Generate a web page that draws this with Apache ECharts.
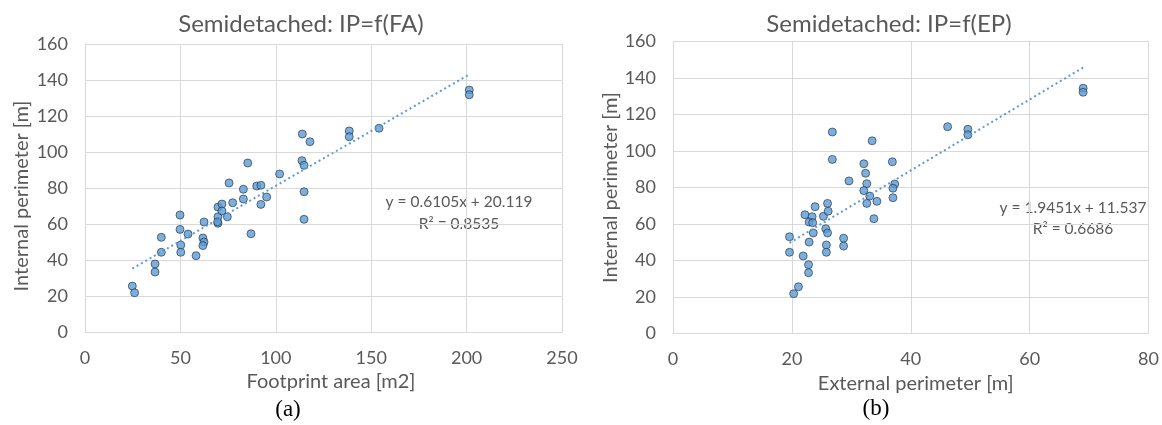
<!DOCTYPE html>
<html>
<head>
<meta charset="utf-8">
<script src="https://cdn.jsdelivr.net/npm/echarts@6/dist/echarts.min.js"></script>
<style>
  html, body { margin: 0; padding: 0; background: #fff; }
  #chart { width: 1162px; height: 425px; }
</style>
</head>
<body>
<div id="chart"></div>
<script>
// Semidetached houses: internal perimeter vs footprint area (a) and vs external perimeter (b)
const footprintArea = [24.8, 26.0, 36.7, 36.7, 40.0, 40.0, 49.8, 49.8, 50.2, 50.2, 54.0, 58.2, 62.4, 61.8, 62.4, 61.8,
  69.7, 69.7, 69.7, 69.5, 71.8, 71.8, 74.6, 77.4, 75.5, 83.0, 83.0, 85.3, 87.0, 90.0, 92.2, 92.2, 95.2, 102.0,
  113.9, 113.7, 114.8, 114.8, 114.8, 117.9, 138.5, 138.5, 154.1, 201.4, 201.4];
const internalPerimA = [25.5, 21.8, 37.8, 33.3, 52.6, 44.3, 65.0, 57.0, 48.3, 44.3, 54.4, 42.4, 61.1, 52.2, 50.0, 48.0,
  69.4, 64.0, 60.4, 61.2, 71.1, 67.2, 64.0, 71.8, 82.8, 79.3, 73.9, 93.9, 54.6, 81.1, 81.5, 70.9, 75.0, 87.8,
  110.0, 95.2, 92.6, 77.9, 62.6, 105.7, 111.7, 108.5, 113.2, 134.4, 131.8];

const externalPerim = [19.6, 19.6, 20.3, 21.1, 21.9, 22.8, 22.8, 22.9, 22.2, 23.4, 22.9, 23.5, 23.6, 23.9, 25.3, 26.0,
  26.1, 25.7, 26.0, 25.8, 25.8, 28.7, 28.7, 26.8, 26.8, 29.6, 32.1, 32.4, 32.6, 32.1, 33.1, 32.6, 34.3, 33.8,
  33.5, 36.9, 37.3, 37.0, 37.0, 46.2, 49.6, 49.6, 69.0, 69.0];
const internalPerimB = [53.0, 44.5, 21.8, 25.6, 42.5, 37.7, 33.3, 50.1, 65.1, 64.0, 61.1, 60.7, 55.1, 69.5, 64.2, 71.3,
  67.0, 57.4, 55.1, 48.5, 44.5, 52.2, 47.9, 110.4, 95.4, 83.6, 93.0, 87.8, 82.1, 78.3, 75.3, 71.3, 72.4, 62.9,
  105.6, 94.1, 81.9, 79.6, 74.4, 113.3, 111.9, 108.9, 134.4, 132.2];

// Linear trend coefficients [slope, intercept] and R²
const fitA = [0.6105, 20.119];
const fitB = [1.9451, 11.537];
const r2A = '0.8535';
const r2B = '0.6686';

const titles = ['Semidetached: IP=f(FA)', 'Semidetached: IP=f(EP)'];
const xNames = ['Footprint area [m2]', 'External perimeter [m]'];
const yName = 'Internal perimeter [m]';
const panelLabels = ['(a)', '(b)'];

const FONT = 'Lato, "Noto Sans", sans-serif';
const GREY = '#595959';
const GRID = '#d9d9d9';
const BLUE = '#5B9BD5';

function pairs(xs, ys) { return xs.map((x, i) => [x, ys[i]]); }
function trend(xs, fit) {
  const lo = Math.min(...xs), hi = Math.max(...xs);
  return [[lo, fit[0] * lo + fit[1]], [hi, fit[0] * hi + fit[1]]];
}
function eqText(fit) { return 'y = ' + fit[0].toFixed(4) + 'x + ' + fit[1].toFixed(3); }

function xAxis(gridIndex, max, interval, name, shift) {
  return {
    type: 'value', gridIndex, min: 0, max, interval,
    name, nameLocation: 'middle', nameGap: 38,
    nameTextStyle: { fontFamily: FONT, fontSize: 20, color: GREY, padding: [0, 0, 0, shift] },
    axisLine: { show: true, lineStyle: { color: GRID, width: 1 } },
    axisTick: { show: false },
    axisLabel: { margin: 17, fontFamily: FONT, fontSize: 18, color: GREY },
    splitLine: { show: true, lineStyle: { color: GRID, width: 1 } }
  };
}
function yAxis(gridIndex, gap, shift) {
  return {
    type: 'value', gridIndex, min: 0, max: 160, interval: 20,
    name: yName, nameLocation: 'middle', nameGap: gap, nameRotate: 90,
    nameTextStyle: { fontFamily: FONT, fontSize: 20, color: GREY, padding: [0, shift, 0, 0] },
    axisLine: { show: true, lineStyle: { color: GRID, width: 1 } },
    axisTick: { show: false },
    axisLabel: { margin: 17, fontFamily: FONT, fontSize: 18, color: GREY },
    splitLine: { show: true, lineStyle: { color: GRID, width: 1 } }
  };
}
function pointSeries(i, data) {
  return {
    type: 'scatter', xAxisIndex: i, yAxisIndex: i, data,
    symbol: 'circle', symbolSize: 8, z: 2,
    itemStyle: { color: BLUE, borderColor: '#1f2d3d', borderWidth: 0.8 },
    emphasis: { disabled: true }
  };
}
function trendSeries(i, data) {
  return {
    type: 'line', xAxisIndex: i, yAxisIndex: i, data,
    symbol: 'none', z: 3, silent: true,
    lineStyle: { color: BLUE, width: 2, type: [2, 3] }
  };
}

const chart = echarts.init(document.getElementById('chart'), null, { renderer: 'canvas' });
const textStyle = { fontFamily: FONT, fontSize: 15.5, fill: GREY, textAlign: 'center' };

chart.setOption({
  animation: false,
  backgroundColor: '#fff',
  title: [
    { text: titles[0], left: 296, top: 7, textAlign: 'center',
      textStyle: { fontFamily: FONT, fontSize: 24, fontWeight: 'normal', color: GREY } },
    { text: titles[1], left: 884, top: 7, textAlign: 'center',
      textStyle: { fontFamily: FONT, fontSize: 24, fontWeight: 'normal', color: GREY } }
  ],
  grid: [
    { left: 85, top: 44, width: 477, height: 288 },
    { left: 673, top: 41.5, width: 476, height: 292 }
  ],
  xAxis: [xAxis(0, 250, 50, xNames[0], 15), xAxis(1, 80, 20, xNames[1], 10)],
  yAxis: [yAxis(0, 53, 16), yAxis(1, 49, 0)],
  series: [
    pointSeries(0, pairs(footprintArea, internalPerimA)),
    trendSeries(0, trend(footprintArea, fitA)),
    pointSeries(1, pairs(externalPerim, internalPerimB)),
    trendSeries(1, trend(externalPerim, fitB))
  ],
  graphic: [
    { type: 'text', x: 459, y: 194, style: Object.assign({ text: eqText(fitA) }, textStyle) },
    { type: 'text', x: 459, y: 216, style: Object.assign({ text: 'R² = ' + r2A }, textStyle) },
    { type: 'text', x: 1073, y: 200, style: Object.assign({ text: eqText(fitB) }, textStyle) },
    { type: 'text', x: 1073, y: 221, style: Object.assign({ text: 'R² = ' + r2B }, textStyle) },
    { type: 'text', x: 288, y: 398, style: { text: panelLabels[0], fontFamily: '"Liberation Serif", serif', fontSize: 23, fill: '#000', textAlign: 'center' } },
    { type: 'text', x: 876, y: 397, style: { text: panelLabels[1], fontFamily: '"Liberation Serif", serif', fontSize: 23, fill: '#000', textAlign: 'center' } }
  ]
});
</script>
</body>
</html>
